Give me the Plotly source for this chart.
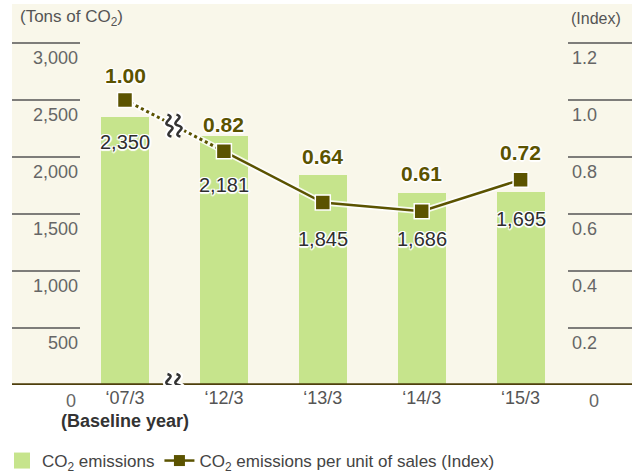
import plotly.graph_objects as go

# ---------------- data ----------------
categories = ["‘07/3", "‘12/3", "‘13/3", "‘14/3", "‘15/3"]
baseline_note = "(Baseline year)"
emissions = [2350, 2181, 1845, 1686, 1695]
index_vals = [1.00, 0.82, 0.64, 0.61, 0.72]
left_ticks = [500, 1000, 1500, 2000, 2500, 3000]
right_ticks = [0.2, 0.4, 0.6, 0.8, 1.0, 1.2]

# ---------------- styles ----------------
BG = "#f9f7ea"
BAR = "#c6e48c"
OLIVE = "#5b5300"
AXIS = "#4e3f0c"
TICK_GRAY = "#666666"
FONT = "Liberation Sans, Arial, sans-serif"
HALO = "1px 1px 0 #fff, -1px -1px 0 #fff, 1px -1px 0 #fff, -1px 1px 0 #fff, 0 2px 1px #fff, 2px 0 1px #fff"

W, H = 632, 476
ML, MR, MT, MB = 12, 0, 4, 91
plot_w = W - ML - MR
plot_h = H - MT - MB
px_per_cat = 98.9
x0_px = 125 - ML
x_range = [-x0_px / px_per_cat, -x0_px / px_per_cat + plot_w / px_per_cat]
y_range = [0, 3000 * plot_h / 342.0]
y2_range = [0, 1.2 * plot_h / 342.0]

bar_label_shift = [-25, -49, -64, -46, -27]
index_label_shift = [25, 27, 46, 38, 27]

fig = go.Figure()

fig.add_trace(go.Bar(
    x=categories, y=emissions, width=0.485, marker=dict(color=BAR, line=dict(width=0)),
    showlegend=False, hoverinfo="skip"))

# halo under the index line
fig.add_trace(go.Scatter(
    x=categories, y=index_vals, yaxis="y2", mode="lines",
    line=dict(color="rgba(255,255,255,0.85)", width=6), showlegend=False, hoverinfo="skip"))
# dotted part (baseline -> first year after break)
fig.add_trace(go.Scatter(
    x=categories[:2], y=index_vals[:2], yaxis="y2", mode="lines",
    line=dict(color=OLIVE, width=3, dash="dot"), showlegend=False, hoverinfo="skip"))
# solid part
fig.add_trace(go.Scatter(
    x=categories[1:], y=index_vals[1:], yaxis="y2", mode="lines",
    line=dict(color=OLIVE, width=2.5), showlegend=False, hoverinfo="skip"))
# markers
fig.add_trace(go.Scatter(
    x=categories, y=index_vals, yaxis="y2", mode="markers",
    marker=dict(symbol="square", size=15, color=OLIVE, line=dict(color="white", width=1.5)),
    showlegend=False, hoverinfo="skip"))

# legend-only entries
fig.add_trace(go.Scatter(
    x=[None], y=[None], mode="markers", name="CO<sub>2</sub> emissions",
    marker=dict(symbol="square", size=18, color=BAR)))
fig.add_trace(go.Scatter(
    x=[None], y=[None], yaxis="y2", mode="lines+markers",
    name="CO<sub>2</sub> emissions per unit of sales (Index)",
    line=dict(color=OLIVE, width=2.5),
    marker=dict(symbol="square", size=11, color=OLIVE)))

shapes = []
annotations = []

# left tick lines and labels
lx1 = (80 - ML) / plot_w
for t in left_ticks:
    shapes.append(dict(type="line", xref="paper", yref="y", x0=0, x1=lx1, y0=t, y1=t,
                       line=dict(color="#555555", width=1.5), layer="above"))
    annotations.append(dict(xref="paper", yref="y", x=lx1, y=t, yshift=-15, text=f"{t:,}",
                            showarrow=False, xanchor="right", yanchor="middle",
                            font=dict(family=FONT, size=18, color=TICK_GRAY)))
annotations.append(dict(xref="paper", yref="y", x=(78 - ML) / plot_w, y=0, yshift=-16, text="0",
                        showarrow=False, xanchor="right", yanchor="middle",
                        font=dict(family=FONT, size=18, color=TICK_GRAY)))

# right tick lines and labels
rx0 = (568 - ML) / plot_w
for t in right_ticks:
    shapes.append(dict(type="line", xref="paper", yref="y2", x0=rx0, x1=1, y0=t, y1=t,
                       line=dict(color="#555555", width=1.5), layer="above"))
    annotations.append(dict(xref="paper", yref="y2", x=(570 - ML) / plot_w, y=t, yshift=-15,
                            text=f"{t:.1f}", showarrow=False, xanchor="left", yanchor="middle",
                            font=dict(family=FONT, size=18, color=TICK_GRAY)))
annotations.append(dict(xref="paper", yref="y2", x=(587 - ML) / plot_w, y=0, yshift=-16, text="0",
                        showarrow=False, xanchor="left", yanchor="middle",
                        font=dict(family=FONT, size=18, color=TICK_GRAY)))

# zero axis line
shapes.append(dict(type="line", xref="paper", yref="y", x0=0, x1=1, y0=0, y1=0,
                   line=dict(color=AXIS, width=3.5), layer="above"))

# break symbols (pixel-sized, anchored in data space)
s_path = ("M -7,11 C 3,8 -15,3 -5,0 C 5,-3 -13,-8 -3,-11 "
          "M 2,11 C 12,8 -6,3 4,0 C 14,-3 -4,-8 6,-11")
for yref, ya in [("y", 0), ("y2", (index_vals[0] + index_vals[1]) / 2)]:
    shapes.append(dict(type="path", xref="x", yref=yref, xsizemode="pixel", ysizemode="pixel",
                       xanchor=0.5, yanchor=ya, path=s_path,
                       line=dict(color="white", width=7), layer="above"))
    shapes.append(dict(type="path", xref="x", yref=yref, xsizemode="pixel", ysizemode="pixel",
                       xanchor=0.5, yanchor=ya, path=s_path,
                       line=dict(color="#333333", width=2.5), layer="above"))

# value labels
for c, v, s in zip(categories, emissions, bar_label_shift):
    annotations.append(dict(x=c, y=v, xref="x", yref="y", yshift=s, text=f"{v:,}",
                            showarrow=False, xanchor="center", yanchor="middle",
                            font=dict(family=FONT, size=20, color="#2e2e2e", shadow=HALO)))
for c, v, s in zip(categories, index_vals, index_label_shift):
    annotations.append(dict(x=c, y=v, xref="x", yref="y2", yshift=s, text=f"<b>{v:.2f}</b>",
                            showarrow=False, xanchor="center", yanchor="middle",
                            font=dict(family=FONT, size=21, color=OLIVE, shadow=HALO)))

# unit labels
annotations.append(dict(xref="paper", yref="paper", x=(18 - ML) / plot_w, y=1,
                        yshift=-14, text="(Tons of CO<sub>2</sub>)", showarrow=False,
                        xanchor="left", yanchor="middle",
                        font=dict(family=FONT, size=17, color="#555555")))
annotations.append(dict(xref="paper", yref="paper", x=(569 - ML) / plot_w, y=1,
                        yshift=-14, text="(Index)", showarrow=False,
                        xanchor="left", yanchor="middle",
                        font=dict(family=FONT, size=16, color="#555555")))

ticktext = [categories[0] + "<br><span style='color:#333333'><b>" + baseline_note + "</b></span>"] + categories[1:]

fig.update_layout(
    width=W, height=H,
    margin=dict(l=ML, r=MR, t=MT, b=MB, pad=0, autoexpand=False),
    paper_bgcolor="white", plot_bgcolor=BG,
    font=dict(family=FONT, color="#444444"),
    xaxis=dict(type="category", range=x_range, tickvals=categories, ticktext=ticktext,
               showgrid=False, zeroline=False, showline=False, ticks="", automargin=False,
               tickfont=dict(family=FONT, size=18, color="#555555"), fixedrange=True),
    yaxis=dict(range=y_range, showgrid=False, zeroline=False, showticklabels=False,
               showline=False, fixedrange=True, automargin=False),
    yaxis2=dict(range=y2_range, overlaying="y", side="right", showgrid=False, zeroline=False,
                showticklabels=False, showline=False, fixedrange=True, automargin=False),
    bargap=0,
    showlegend=True,
    legend=dict(orientation="h", x=-10 / plot_w, xanchor="left", y=-(461 - (H - MB)) / plot_h,
                yanchor="middle", bgcolor="rgba(0,0,0,0)",
                font=dict(family=FONT, size=17, color="#444444"), itemwidth=30,
                tracegroupgap=0),
    shapes=shapes,
    annotations=annotations,
)

fig.write_html(
    "out.html",
    config={"displayModeBar": False},
    post_script="document.body.style.margin='0';document.body.style.padding='0';"
                "document.body.style.overflow='hidden';",
)
